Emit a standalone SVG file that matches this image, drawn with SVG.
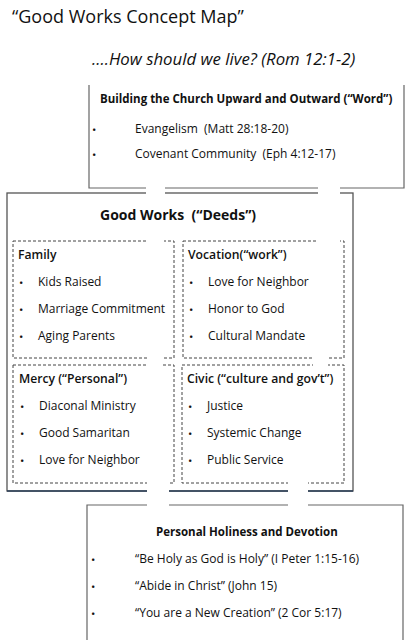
<svg xmlns="http://www.w3.org/2000/svg" width="418" height="640" viewBox="0 0 418 640">
<style>
text{font-family:"Open Sans","Noto Sans","Liberation Sans",sans-serif;fill:#111;white-space:pre}
.title{font-size:18px}
.sub{font-size:16.8px;font-style:italic}
.h{font-size:11.5px;font-weight:bold}
.gw{font-size:14px;font-weight:bold}
.sh{font-size:12.2px;font-weight:600}
.it{font-size:12px}
.bul{font-size:11.5px}
.box{fill:none;stroke:#666;stroke-width:1.2}
.gwbox{fill:none;stroke:#555;stroke-width:1.3}
.dash{fill:none;stroke:#444;stroke-width:1;stroke-dasharray:3 2}
.gap{fill:#fff;stroke:none}
</style>
<rect width="418" height="640" fill="#fff"/>
<g id="title">
<text class="title" x="12" y="23">“Good Works Concept Map”</text>
<text class="sub" x="92" y="65">….How should we live? (Rom 12:1-2)</text>
</g>
<g id="word">
<path class="box" d="M89 85V188H404V85"/>
<text class="h" x="100" y="103">Building the Church Upward and Outward (“Word”)</text>
<text class="bul" x="92" y="134">•</text>
<text class="it" x="135" y="133">Evangelism  (Matt 28:18-20)</text>
<text class="bul" x="92" y="159">•</text>
<text class="it" x="135" y="158">Covenant Community  (Eph 4:12-17)</text>
</g>
<g id="deeds">
<rect class="gwbox" x="7" y="193" width="346" height="298"/>
<path d="M7 491H353" stroke="#2b3f58" stroke-width="1.6" fill="none"/>
<text class="gw" x="100" y="220">Good Works  (“Deeds”)</text>
</g>
<g id="family">
<rect class="dash" x="13" y="241" width="161" height="117"/>
<text class="sh" x="18" y="259">Family</text>
<text class="bul" x="19" y="287">•</text>
<text class="it" x="38" y="286">Kids Raised</text>
<text class="bul" x="19" y="314">•</text>
<text class="it" x="38" y="313">Marriage Commitment</text>
<text class="bul" x="19" y="341">•</text>
<text class="it" x="38" y="340">Aging Parents</text>
</g>
<g id="vocation">
<rect class="dash" x="183" y="241" width="161" height="117"/>
<text class="sh" x="188" y="259">Vocation(“work”)</text>
<text class="bul" x="189" y="287">•</text>
<text class="it" x="208" y="286">Love for Neighbor</text>
<text class="bul" x="189" y="314">•</text>
<text class="it" x="208" y="313">Honor to God</text>
<text class="bul" x="189" y="341">•</text>
<text class="it" x="208" y="340">Cultural Mandate</text>
</g>
<g id="mercy">
<rect class="dash" x="13" y="365" width="161" height="118"/>
<text class="sh" x="19" y="383">Mercy (“Personal”)</text>
<text class="bul" x="20" y="411">•</text>
<text class="it" x="39" y="410">Diaconal Ministry</text>
<text class="bul" x="20" y="438">•</text>
<text class="it" x="39" y="437">Good Samaritan</text>
<text class="bul" x="20" y="465">•</text>
<text class="it" x="39" y="464">Love for Neighbor</text>
</g>
<g id="civic">
<rect class="dash" x="182" y="365" width="162" height="118"/>
<text class="sh" x="187" y="383">Civic (“culture and gov’t”)</text>
<text class="bul" x="188" y="411">•</text>
<text class="it" x="207" y="410">Justice</text>
<text class="bul" x="188" y="438">•</text>
<text class="it" x="207" y="437">Systemic Change</text>
<text class="bul" x="188" y="465">•</text>
<text class="it" x="207" y="464">Public Service</text>
</g>
<g id="holiness">
<path class="box" d="M87 645V505H403V645"/>
<text class="h" x="156" y="536">Personal Holiness and Devotion</text>
<text class="bul" x="91" y="564">•</text>
<text class="it" x="135" y="563">“Be Holy as God is Holy” (I Peter 1:15-16)</text>
<text class="bul" x="91" y="591">•</text>
<text class="it" x="135" y="590">“Abide in Christ” (John 15)</text>
<text class="bul" x="91" y="618">•</text>
<text class="it" x="135" y="617">“You are a New Creation” (2 Cor 5:17)</text>
</g>
<g id="connectors">
<rect class="gap" x="146" y="183" width="19" height="14"/>
<rect class="gap" x="147" y="236" width="17" height="10"/>
<rect class="gap" x="148" y="353" width="15" height="16"/>
<rect class="gap" x="147" y="478" width="22" height="32"/>
<rect class="gap" x="318" y="183" width="22" height="14"/>
<rect class="gap" x="318" y="236" width="22" height="10"/>
<rect class="gap" x="313" y="353" width="15" height="16"/>
<rect class="gap" x="288" y="478" width="20" height="32"/>
</g>
</svg>
